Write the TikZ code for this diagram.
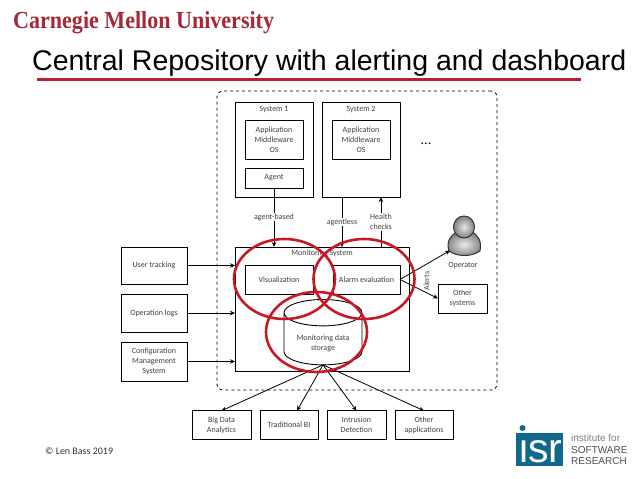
\documentclass[tikz,border=0pt]{standalone}
\usepackage{fontspec}
\setmainfont{Carlito}
\newfontfamily\titlefont{Liberation Sans}
\newfontfamily\logofont[FakeStretch=0.9]{Liberation Serif}
\usetikzlibrary{arrows.meta, positioning, shapes.geometric}
\definecolor{cmured}{RGB}{166,40,56}
\definecolor{ringred}{RGB}{200,24,36}
\definecolor{isrteal}{RGB}{18,104,140}

\begin{document}
\begin{tikzpicture}[x=1pt, y=-1pt,
  box/.style={draw, line width=0.9pt, fill=white, align=center, inner sep=0pt, outer sep=0pt,
              font=\fontsize{8}{10}\selectfont, text=black!75},
  lbl/.style={fill=white, inner sep=1pt, align=center, font=\fontsize{8}{10}\selectfont, text=black!75},
  arr/.style={-{Stealth[length=5pt, width=4.5pt]}, line width=0.8pt},
  ring/.style={draw=ringred, line width=2.6pt, ellipse, minimum width=101pt, minimum height=80pt,
               inner sep=0pt, outer sep=0pt}]
\useasboundingbox (0,0) rectangle (638,479);

% header
\node[anchor=base west, text=cmured, font=\logofont\bfseries\fontsize{24.5}{24}\selectfont, inner sep=0pt] (logo) at (13,28) {Carnegie Mellon University};
\node[anchor=base west, font=\titlefont\fontsize{28.5}{29}\selectfont, inner sep=0pt] (title) at (32,70) {Central Repository with alerting and dashboard};
\draw[cmured!80!red, line width=2.4pt] (37,79.5) -- (581,79.5);

% outer boundary
\node[draw, dashed, rounded corners=6pt, line width=0.8pt, minimum width=280pt, minimum height=299pt, outer sep=0pt] (boundary) at (357,240.5) {};

% monitored systems
\node[box, text depth=83pt, minimum width=78pt, minimum height=95pt, text height=6pt] (sysa) at (274,149.5) {System 1};
\node[box, minimum width=58pt, minimum height=39pt] (appa) at (274,139.5) {Application\\Middleware\\OS};
\node[box, minimum width=58pt, minimum height=20pt] (agent) at (274,178) {Agent};
\node[box, text depth=83pt, minimum width=78pt, minimum height=95pt, text height=6pt] (sysb) at (361,149.5) {System 2};
\node[box, minimum width=58pt, minimum height=39pt] (appb) at (361,139.5) {Application\\Middleware\\OS};
\node[font=\fontsize{14}{14}\selectfont, inner sep=0pt] (dots) at (426,144) {...};

% monitoring system
\node[box, minimum width=174pt, minimum height=124pt] (mon) at (322,309) {};
\node[lbl, fill=none] (montitle) at (322,253.5) {Monitoring System};
\node[box, minimum width=68pt, minimum height=29pt] (vis) at (279,279.5) {Visualization};
\node[box, minimum width=67pt, minimum height=29pt] (alarm) at (366.5,279.5) {Alarm evaluation};
\node[box, cylinder, shape border rotate=90, shape aspect=0.5, minimum width=78pt, minimum height=52pt] (store) at (323,339) {\rule{0pt}{14pt}Monitoring data\\storage};

% sources
\node[box, minimum width=66pt, minimum height=37pt] (track) at (154,265.5) {User tracking};
\node[box, minimum width=66pt, minimum height=38pt] (oplog) at (154,313) {Operation logs};
\node[box, minimum width=66pt, minimum height=39pt] (config) at (154,361.5) {Configuration\\Management\\System};

% consumers
\node[box, minimum width=59pt, minimum height=28.5pt] (bigdata) at (221.5,425) {Big Data\\Analytics};
\node[box, minimum width=58pt, minimum height=28.5pt, right=9pt of bigdata] (tradbi) {Traditional BI};
\node[box, minimum width=59pt, minimum height=28.5pt, right=9pt of tradbi] (intrusion) {Intrusion\\Detection};
\node[box, minimum width=58pt, minimum height=28.5pt, right=9pt of intrusion] (otherapp) {Other\\applications};

% operator
\shade[inner color=black!8, outer color=black!50, draw=black!80, line width=1pt] (449,251) .. controls (446,241) and (451,235) .. (457,232) -- (472,232) .. controls (478,235) and (482,241) .. (480,251) .. controls (472,257) and (457,257) .. (449,251) -- cycle;
\shade[inner color=black!10, outer color=black!50, draw=black!80, line width=1pt] (464,227) ellipse (10.5pt and 11pt);
\coordinate (optip) at (450,250.5);
\node[lbl, fill=none] (operator) at (463,265.5) {Operator};
\node[box, minimum width=49pt, minimum height=29pt] (othersys) at (462.5,298.5) {Other\\systems};
\node[lbl, fill=none, rotate=90] (alerts) at (426.5,281) {Alerts};

% connectors
\draw[arr] (agent.south) -- (agent.south |- mon.north);
\draw[arr] (342,197) -- (342,247);
\draw[arr] (381,247) -- (381,197);
\node[lbl] (agentbased) at (274,217) {agent-based};
\node[lbl] (agentless) at (342,222) {agentless};
\node[lbl] (health) at (381,222) {Health\\checks};
\draw[arr] (track.east) -- (track.east -| mon.west);
\draw[arr] (oplog.east) -- (oplog.east -| mon.west);
\draw[arr] (config.east) -- (config.east -| mon.west);
\draw[arr] (alarm.east) -- (optip);
\draw[arr] (alarm.east) -- (othersys.west);
\draw[arr] (store.south) -- (bigdata.north);
\draw[arr] (store.south) -- ([xshift=8pt]tradbi.north);
\draw[arr] (store.south) -- (intrusion.north);
\draw[arr] (store.south) -- (otherapp.north);

% highlight rings
\node[ring] (ringa) at (284.5,279) {};
\node[ring] (ringb) at (364,279) {};
\node[ring] (ringc) at (316.5,332) {};

% footer
\node[anchor=west, inner sep=0pt, font=\fontsize{10}{12}\selectfont, text=black!80] (copyright) at (45,451) {© Len Bass 2019};
\node[fill=isrteal, minimum width=47pt, minimum height=33pt, inner sep=0pt] (isrbox) at (539.5,449.5) {};
\node[anchor=base west, inner sep=0pt, text=white, font=\titlefont\fontsize{41}{41}\selectfont] (isr) at (519,462) {isr};
\fill[isrteal] (519,433) rectangle (527,437.5);
\fill[isrteal] (522.5,428) circle (3pt);
\node[anchor=west, inner sep=0pt, align=left, text=black!70, font=\titlefont\fontsize{10}{11.5}\selectfont] (isrtext) at (571,449.5) {\textcolor{black!50}{institute for}\\SOFTWARE\\RESEARCH};
\end{tikzpicture}
\end{document}
